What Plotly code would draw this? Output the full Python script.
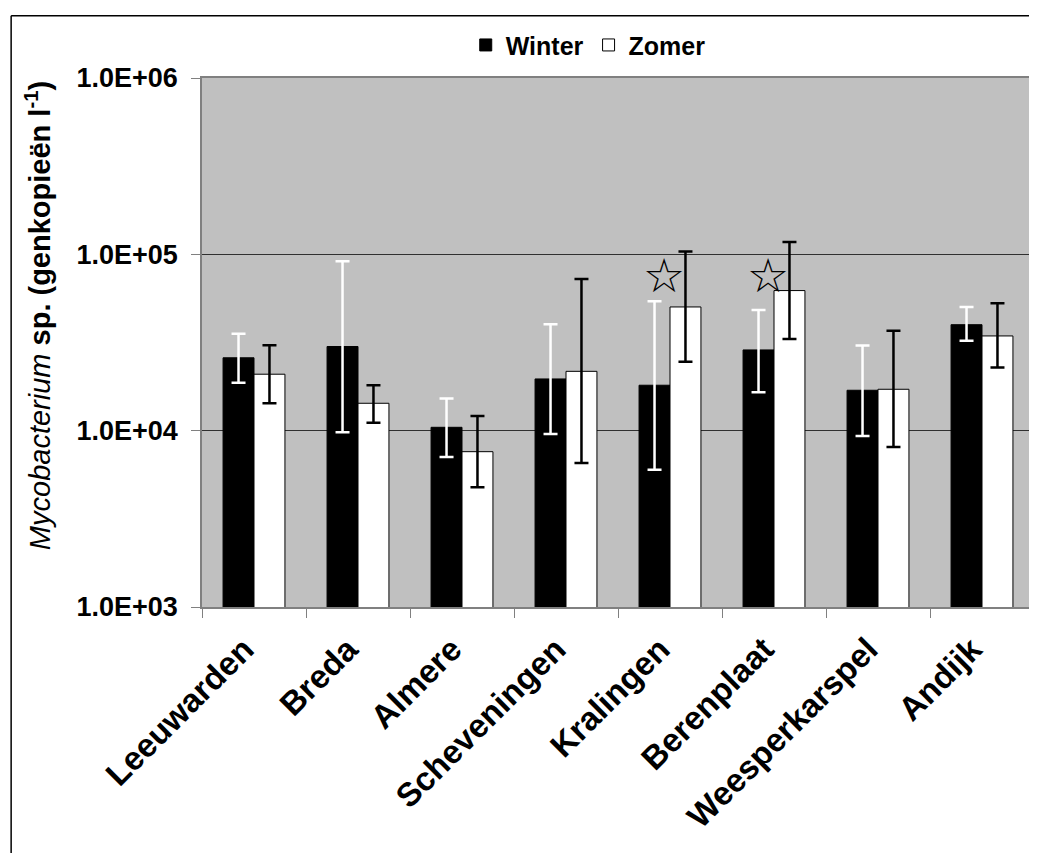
import math
import plotly.graph_objects as go

sites = ["Leeuwarden", "Breda", "Almere", "Scheveningen", "Kralingen",
         "Berenplaat", "Weesperkarspel", "Andijk"]

winter = [25900, 30000, 10450, 19650, 18100, 28700, 16950, 39900]
winter_hi = [35400, 91400, 15200, 40100, 54200, 48400, 30400, 50300]
winter_lo = [18700, 9790, 7100, 9580, 6010, 16500, 9330, 32400]

zomer = [20900, 14300, 7600, 21700, 50300, 62300, 17170, 34450]
zomer_hi = [30500, 18100, 12100, 72500, 103700, 117600, 36900, 52800]
zomer_lo = [14300, 11100, 4770, 6560, 24600, 33100, 8090, 22800]

star_sites = ["Kralingen", "Berenplaat"]
star_level = 75700

tick_vals = [1e3, 1e4, 1e5, 1e6]
tick_text = ["1.0E+03", "1.0E+04", "1.0E+05", "1.0E+06"]

FONT = "Liberation Sans, Arial, sans-serif"

fig = go.Figure()
fig.add_trace(go.Bar(
    name="Winter", x=sites, y=winter,
    marker=dict(color="black", line=dict(color="black", width=1)),
    error_y=dict(type="data", symmetric=False,
                 array=[h - v for h, v in zip(winter_hi, winter)],
                 arrayminus=[v - l for l, v in zip(winter_lo, winter)],
                 color="white", thickness=2.5, width=7),
))
fig.add_trace(go.Bar(
    name="Zomer", x=sites, y=zomer,
    marker=dict(color="white", line=dict(color="black", width=1)),
    error_y=dict(type="data", symmetric=False,
                 array=[h - v for h, v in zip(zomer_hi, zomer)],
                 arrayminus=[v - l for l, v in zip(zomer_lo, zomer)],
                 color="black", thickness=2.5, width=7),
))

for s in star_sites:
    fig.add_annotation(x=s, y=math.log10(star_level), yref="y", xref="x", text="☆",
                       showarrow=False, xshift=-6, xanchor="center", yanchor="middle",
                       font=dict(family="DejaVu Sans", size=47, color="black"))

# y-axis title (rich text)
fig.add_annotation(
    xref="paper", yref="paper", x=-0.197, y=0.55, textangle=-90,
    xanchor="center", yanchor="middle",
    text="<i>Mycobacterium</i> <b>sp. (genkopieën l<sup>-1</sup>)</b>",
    showarrow=False, font=dict(family=FONT, size=29, color="black"),
)

# outer chart border (top and left visible)
fig.add_shape(type="line", xref="paper", yref="paper", x0=-0.2294, x1=1.01,
              y0=1.1178, y1=1.1178, line=dict(color="black", width=1.5))
fig.add_shape(type="line", xref="paper", yref="paper", x0=-0.2294, x1=-0.2294,
              y0=1.1178, y1=-0.6, line=dict(color="black", width=1.5))

fig.update_layout(
    width=1029, height=845,
    margin=dict(l=194, r=1, t=70, b=246),
    paper_bgcolor="white", plot_bgcolor="#c0c0c0",
    barmode="group", bargap=0.405, bargroupgap=0,
    font=dict(family=FONT, color="black"),
    showlegend=True,
    legend=dict(orientation="h", x=0.317, y=1.062, xanchor="left", yanchor="middle",
                font=dict(family=FONT, size=25, color="black", weight="bold"),
                itemwidth=30, bgcolor="rgba(0,0,0,0)"),
)
fig.update_xaxes(
    tickangle=-45, tickson="boundaries", ticks="outside", ticklen=9,
    tickcolor="#808080", showline=True, linecolor="#808080", linewidth=1.5,
    mirror=True, showgrid=False, ticklabelshift=-10, ticklabelstandoff=8,
    tickfont=dict(family=FONT, size=33, color="black", weight="bold"),
)
fig.update_yaxes(
    type="log", range=[3, 6], tickvals=tick_vals, ticktext=tick_text,
    ticks="outside", ticklen=9, tickcolor="#808080", ticklabelstandoff=8,
    showline=True, linecolor="#808080", linewidth=1.5, mirror=True,
    showgrid=True, gridcolor="#303030", gridwidth=1,
    tickfont=dict(family=FONT, size=27, color="black", weight="bold"),
)

fig.write_html("out.html")
